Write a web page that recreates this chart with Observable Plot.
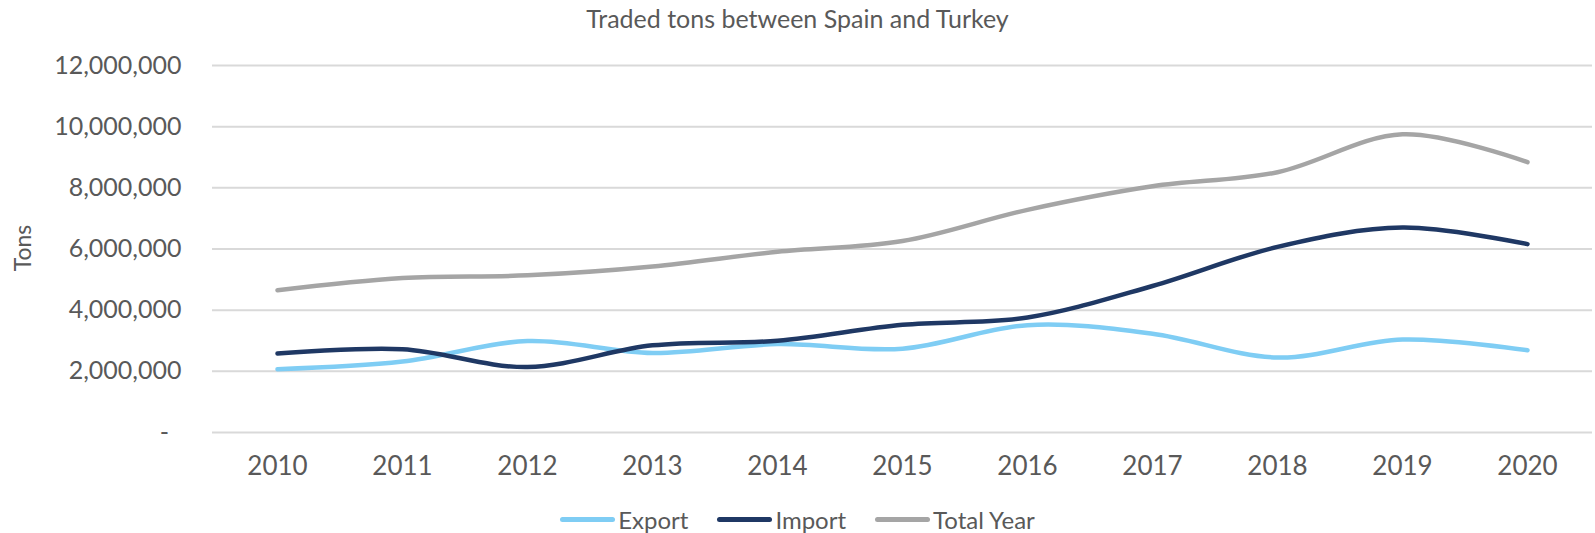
<!DOCTYPE html>
<html>
<head>
<meta charset="utf-8">
<script src="https://cdn.jsdelivr.net/npm/d3@7"></script>
<script src="https://cdn.jsdelivr.net/npm/@observablehq/plot@0.6"></script>
<style>
  body { margin: 0; background: #fff; font-family: Lato, "Open Sans", sans-serif; }
  #wrap { position: relative; width: 1595px; height: 533px; overflow: hidden; background: #fff; }
  #title { position: absolute; left: 0; top: 0; width: 1595px; height: 36px; line-height: 36px; text-align: center; font-size: 25px; color: #595959; }
  #chart { position: absolute; left: 0; top: 36px; }
  #ylab { position: absolute; left: 22px; top: 248px; transform: translate(-50%, -50%) rotate(-90deg); font-size: 23px; color: #595959; white-space: nowrap; z-index: 2; }
  #legend { position: absolute; left: 0; top: 505px; width: 1595px; height: 28px; display: flex; justify-content: center; align-items: center; gap: 29px; font-size: 24px; color: #595959; }
  .item { display: flex; align-items: center; }
  .sw { width: 55px; height: 5px; border-radius: 3px; margin-right: 3px; }
</style>
</head>
<body>
<div id="wrap">
  <div id="title"></div>
  <div id="chart"></div>
  <div id="ylab"></div>
  <div id="legend"></div>
</div>
<script>
const chartTitle = "Traded tons between Spain and Turkey";
const yLabel = "Tons";
const years = ["2010", "2011", "2012", "2013", "2014", "2015", "2016", "2017", "2018", "2019", "2020"];
const exportTons = [2070000, 2320000, 2990000, 2600000, 2890000, 2740000, 3510000, 3230000, 2450000, 3040000, 2690000];
const importTons = [2580000, 2720000, 2140000, 2850000, 3000000, 3520000, 3760000, 4790000, 6070000, 6700000, 6160000];
const totalTons = [4650000, 5050000, 5140000, 5430000, 5910000, 6260000, 7280000, 8050000, 8510000, 9750000, 8840000];
const seriesNames = ["Export", "Import", "Total Year"];
const seriesColors = ["#7fcdf4", "#1f3864", "#a5a5a5"];
const yTicks = [0, 2000000, 4000000, 6000000, 8000000, 10000000, 12000000];

const seriesValues = [exportTons, importTons, totalTons];
const data = [];
seriesNames.forEach((name, s) => {
  years.forEach((yr, i) => data.push({ year: yr, series: name, value: seriesValues[s][i] }));
});

document.getElementById("title").textContent = chartTitle;
document.getElementById("ylab").textContent = yLabel;

const fmt = d3.format(",");
const chart = Plot.plot({
  width: 1595,
  height: 456,
  marginTop: 29,
  marginBottom: 60,
  marginLeft: 212,
  marginRight: 3,
  style: { fontFamily: "Lato, 'Open Sans', sans-serif", fontSize: "25px", color: "#595959", background: "white" },
  x: { type: "point", domain: years, label: null },
  y: { domain: [0, 12000000], label: null },
  color: { domain: seriesNames, range: seriesColors },
  marks: [
    Plot.ruleY(yTicks, { stroke: "#d9d9d9", strokeWidth: 2 }),
    Plot.axisY({ ticks: yTicks, tickSize: 0, tickPadding: 31, label: null,
      tickFormat: d => d === 0 ? "-\u2002" : fmt(d) }),
    Plot.axisX({ tickSize: 0, tickPadding: 24, label: null, fontSize: 26 }),
    Plot.line(data, { x: "year", y: "value", z: "series", stroke: "series", strokeWidth: 4.5,
      curve: "cardinal", strokeLinecap: "round", strokeLinejoin: "round" })
  ]
});
document.getElementById("chart").appendChild(chart);

const legend = document.getElementById("legend");
seriesNames.forEach((name, i) => {
  const item = document.createElement("div");
  item.className = "item";
  const sw = document.createElement("span");
  sw.className = "sw";
  sw.style.background = seriesColors[i];
  const tx = document.createElement("span");
  tx.textContent = name;
  item.appendChild(sw);
  item.appendChild(tx);
  legend.appendChild(item);
});
</script>
</body>
</html>
